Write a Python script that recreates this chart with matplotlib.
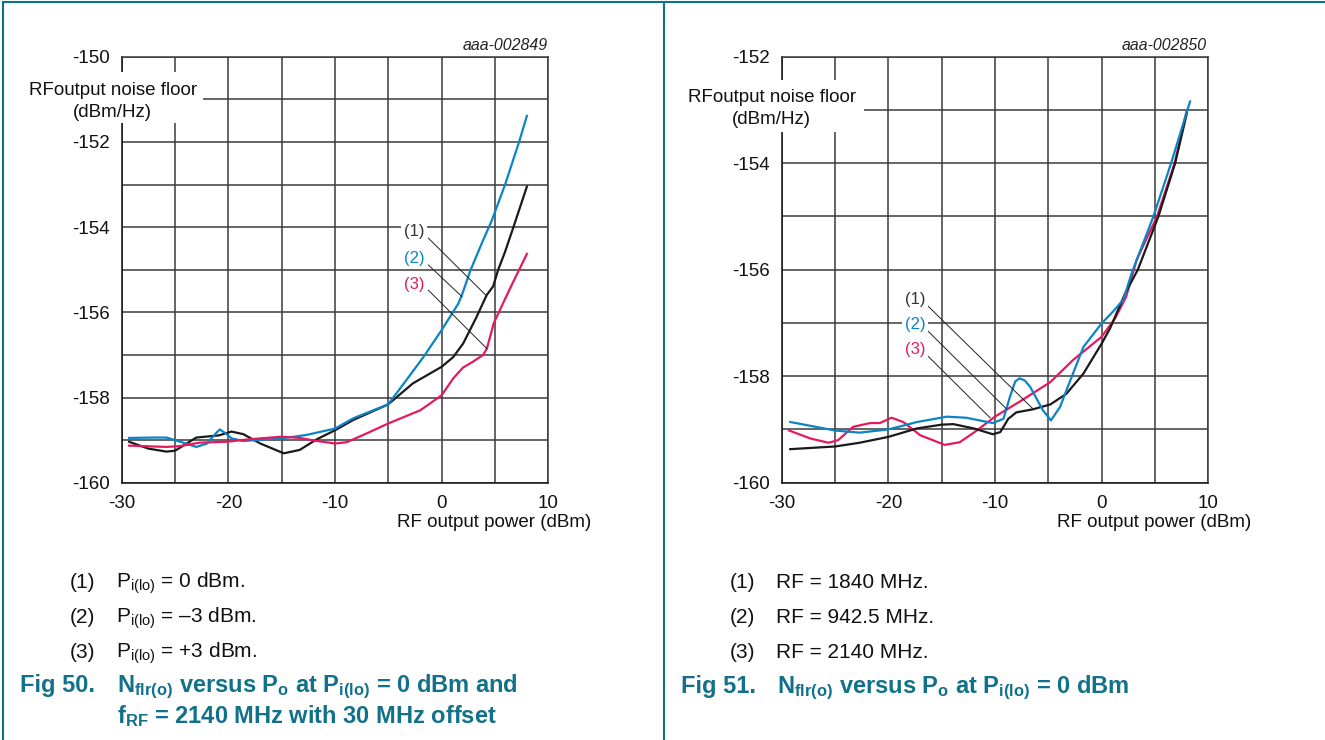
import matplotlib
matplotlib.use('Agg')
import matplotlib.pyplot as plt
from matplotlib.patches import Rectangle

plt.rcParams['font.family'] = ['Liberation Sans', 'DejaVu Sans']
plt.rcParams['mathtext.fontset'] = 'custom'
plt.rcParams['mathtext.rm'] = 'Liberation Sans'
plt.rcParams['mathtext.it'] = 'Liberation Sans:italic'
plt.rcParams['mathtext.bf'] = 'Liberation Sans:bold'

# ---------------- data: Fig 50 ----------------
f50_x1 = [-29.3, -27.5, -25.8, -25, -23, -20.9, -19.7, -18.6, -17, -14.8, -13.3, -11.7, -10, -8.3,
          -5, -2.7, 0, 1.1, 2.03, 3.28, 4.22, 4.84, 5.31, 5.94, 6.74, 8.0]
f50_y1 = [-159.04, -159.2, -159.27, -159.25, -158.94, -158.89, -158.80, -158.86, -159.08, -159.31,
          -159.23, -158.98, -158.77, -158.53, -158.16, -157.67, -157.28, -157.05, -156.73, -156.11,
          -155.6, -155.39, -155.0, -154.59, -154.0, -153.05]
f50_x2 = [-29.3, -27, -25.8, -24.5, -23, -22, -21.2, -20.8, -20.2, -19.7, -18.6, -15, -12.7, -10,
          -8.3, -5, -3.3, -1.7, 0, 1.56, 1.9, 2.7, 3.77, 4.7, 5.96, 7.27, 8.0]
f50_y2 = [-158.95, -158.94, -158.94, -159.04, -159.16, -159.08, -158.85, -158.75, -158.85, -158.96,
          -159.02, -158.96, -158.88, -158.73, -158.49, -158.16, -157.59, -157.05, -156.42, -155.8,
          -155.6, -155.02, -154.38, -153.85, -153.0, -152.0, -151.39]
f50_x3 = [-29.3, -25.8, -24.5, -22.7, -20.2, -18, -15, -13.3, -11.7, -10, -8.9, -7.0, -5, -2.0, 0,
          1.1, 2.0, 3.0, 3.9, 4.25, 4.9, 6.4, 8.0]
f50_y3 = [-159.13, -159.16, -159.14, -159.06, -159.04, -158.98, -158.92, -158.95, -159.02, -159.08,
          -159.05, -158.84, -158.61, -158.30, -157.95, -157.55, -157.3, -157.15, -157.0, -156.85,
          -156.25, -155.45, -154.63]

# ---------------- data: Fig 51 ----------------
f51_x1 = [-29.2, -25, -22.7, -20, -17.3, -15, -13.9, -12, -10.2, -9.5, -8.75, -8, -6.4, -4.8, -3.3,
          -1.7, 0, 0.8, 2.2, 3.4, 5.33, 6.9, 8.0]
f51_y1 = [-159.37, -159.32, -159.25, -159.14, -158.98, -158.91, -158.90, -158.98, -159.09, -159.05,
          -158.80, -158.68, -158.62, -158.53, -158.33, -157.95, -157.39, -157.1, -156.45, -156.0,
          -155.0, -154.0, -153.06]
f51_x2 = [-29.2, -25, -22.7, -20, -17.3, -14.5, -12.7, -10.2, -9.2, -8.6, -8.1, -7.7, -7.2, -6.7,
          -5.5, -4.75, -3.9, -2.8, -1.7, 0, 1.1, 2.05, 2.83, 4.86, 6.52, 8.3]
f51_y2 = [-158.86, -159.02, -159.06, -159.0, -158.86, -158.76, -158.78, -158.88, -158.80, -158.39,
          -158.1, -158.04, -158.08, -158.2, -158.64, -158.83, -158.58, -158.01, -157.45, -157.01,
          -156.78, -156.56, -156.06, -155.0, -154.0, -152.84]
f51_x3 = [-29.3, -27.3, -25.6, -24.7, -23.3, -21.7, -20.8, -19.7, -18.6, -17, -14.7, -13.3, -11.7,
          -10, -7.7, -4.8, -2.7, 0, 1.25, 2.3, 3.3, 5.2, 6.85, 8.0]
f51_y3 = [-159.02, -159.17, -159.25, -159.20, -158.95, -158.88, -158.88, -158.78, -158.86, -159.11,
          -159.29, -159.24, -159.02, -158.76, -158.48, -158.11, -157.70, -157.26, -156.92, -156.51,
          -155.81, -155.0, -154.0, -153.0]

x_ticks = [-30, -25, -20, -15, -10, -5, 0, 5, 10]
x_ticklabels = ['-30', '', '-20', '', '-10', '', '0', '', '10']
f50_yticks = list(range(-160, -149))
f51_yticks = list(range(-160, -151))

legend50 = [r'P$_{\mathregular{i(lo)}}$ = 0 dBm.', r'P$_{\mathregular{i(lo)}}$ = –3 dBm.',
            r'P$_{\mathregular{i(lo)}}$ = +3 dBm.']
legend51 = ['RF = 1840 MHz.', 'RF = 942.5 MHz.', 'RF = 2140 MHz.']

C_BLACK = '#1a1a1a'
C_BLUE = '#0a84c6'
C_RED = '#e5195e'
C_TEAL = '#11718a'
C_GRID = '#3a3a3a'

W, H = 1325, 740
fig = plt.figure(figsize=(W / 100, H / 100), dpi=100)


def fx(x):
    return x / W


def fy(y):
    return 1 - y / H


def make_axes(left_px, ymin, ymax, yticks):
    ax = fig.add_axes([fx(left_px), fy(482.7), 426.5 / W, 426.0 / H])
    ax.set_xlim(-30, 10)
    ax.set_ylim(ymin, ymax)
    ax.set_xticks(x_ticks)
    ax.set_xticklabels(x_ticklabels)
    ax.set_yticks(yticks)
    ax.set_yticklabels([str(v) if v % 2 == 0 else '' for v in yticks])
    ax.tick_params(length=0, labelsize=13.5, pad=8.5, colors='#111111')
    ax.grid(True, color=C_GRID, lw=1.1)
    for s in ax.spines.values():
        s.set_color(C_GRID)
        s.set_linewidth(1.1)
    ax.spines['left'].set_color('#111111')
    ax.spines['bottom'].set_color('#111111')
    ax.set_facecolor('white')
    return ax


ax1 = make_axes(121.7, -160, -150, f50_yticks)
ax2 = make_axes(781.7, -160, -152, f51_yticks)

for ax, series in ((ax1, [(f50_x1, f50_y1, C_BLACK), (f50_x2, f50_y2, C_BLUE), (f50_x3, f50_y3, C_RED)]),
                   (ax2, [(f51_x3, f51_y3, C_RED), (f51_x1, f51_y1, C_BLACK), (f51_x2, f51_y2, C_BLUE)])):
    for xs, ys, c in series:
        ax.plot(xs, ys, color=c, lw=1.6, solid_joinstyle='round', zorder=3)

# leader labels
lab_cols = [C_BLACK, C_BLUE, C_RED]
lab_txt = ['(1)', '(2)', '(3)']
f50_lab = [(-2.58, -154.11), (-2.58, -154.73), (-2.58, -155.34)]
f50_lead = [((-1.24, 4.24), (-154.26, -155.62)), ((-1.24, 1.9), (-154.89, -155.63)),
            ((-1.24, 4.24), (-155.48, -156.85))]
f51_lab = [(-17.5, -156.56), (-17.5, -157.03), (-17.5, -157.50)]
f51_lead = [((-16.4, -6.4), (-156.66, -158.62)), ((-16.4, -8.89), (-157.13, -158.62)),
            ((-16.25, -10.46), (-157.63, -158.78))]
for ax, labs, leads in ((ax1, f50_lab, f50_lead), (ax2, f51_lab, f51_lead)):
    for (lx, ly), (lxs, lys), t, c in zip(labs, leads, lab_txt, lab_cols):
        ax.plot(lxs, lys, color='#222222', lw=0.7, zorder=4)
        ax.text(lx, ly, t, color=c if c != C_BLACK else '#333333', fontsize=12, ha='center',
                va='center', zorder=5,
                bbox=dict(boxstyle='square,pad=0.15', fc='white', ec='none'))

# y-axis titles with white patches
for (x0, y0, x1, y1), cx, b1, b2 in (((20, 72, 203, 123), 112.6, 95, 117),
                                      ((680, 80, 864, 132), 771.8, 101.5, 123.5)):
    fig.add_artist(Rectangle((fx(x0), fy(y1)), (x1 - x0) / W, (y1 - y0) / H,
                             transform=fig.transFigure, fc='white', ec='none', zorder=5))
    fig.text(fx(cx), fy(b1), 'RFoutput noise floor', ha='center', va='baseline',
             fontsize=13.5, color='#111111', zorder=6)
    fig.text(fx(cx), fy(b2), '(dBm/Hz)', ha='center', va='baseline',
             fontsize=13.5, color='#111111', zorder=6)

# figure codes and x-axis titles
fig.text(fx(548), fy(50), 'aaa-002849', ha='right', va='baseline', fontsize=11.4,
         style='italic', color='#222222')
fig.text(fx(1207), fy(50), 'aaa-002850', ha='right', va='baseline', fontsize=11.4,
         style='italic', color='#222222')
fig.text(fx(591), fy(527), 'RF output power (dBm)', ha='right', va='baseline', fontsize=13.5,
         color='#111111')
fig.text(fx(1251), fy(527), 'RF output power (dBm)', ha='right', va='baseline', fontsize=13.5,
         color='#111111')

# legends below plots
for base_x, items in ((0, legend50), (660, legend51)):
    for i, (t, yb) in enumerate(zip(items, (588, 623, 658))):
        fig.text(fx(base_x + 70), fy(yb), f'({i + 1})', ha='left', va='baseline', fontsize=15,
                 color='#111111')
        fig.text(fx(base_x + 116.5), fy(yb), t, ha='left', va='baseline', fontsize=15,
                 color='#111111')

# captions
CAP = 17
fig.text(fx(20), fy(692), 'Fig 50.', ha='left', va='baseline', fontsize=CAP,
         fontweight='bold', color=C_TEAL)
fig.text(fx(117), fy(692), r'N$_{\mathbf{flr(o)}}$ versus P$_{\mathbf{o}}$ at P$_{\mathbf{i(lo)}}$ = 0 dBm and',
         ha='left', va='baseline', fontsize=CAP, fontweight='bold', color=C_TEAL)
fig.text(fx(117), fy(723), r'f$_{\mathbf{RF}}$ = 2140 MHz with 30 MHz offset',
         ha='left', va='baseline', fontsize=CAP, fontweight='bold', color=C_TEAL)
fig.text(fx(681), fy(693), 'Fig 51.', ha='left', va='baseline', fontsize=CAP,
         fontweight='bold', color=C_TEAL)
fig.text(fx(777), fy(693), r'N$_{\mathbf{flr(o)}}$ versus P$_{\mathbf{o}}$ at P$_{\mathbf{i(lo)}}$ = 0 dBm',
         ha='left', va='baseline', fontsize=CAP, fontweight='bold', color=C_TEAL)

# frame lines
C_FRAME = '#0a7389'
fig.add_artist(plt.Line2D([fx(3), 1], [fy(2.3), fy(2.3)], transform=fig.transFigure,
                          color=C_FRAME, lw=1.5))
fig.add_artist(plt.Line2D([fx(3.3), fx(3.3)], [0, fy(2.3)], transform=fig.transFigure,
                          color=C_FRAME, lw=1.5))
fig.add_artist(plt.Line2D([fx(664), fx(664)], [0, fy(2.3)], transform=fig.transFigure,
                          color=C_FRAME, lw=1.5))

fig.savefig('out.png', dpi=100, facecolor='white')
